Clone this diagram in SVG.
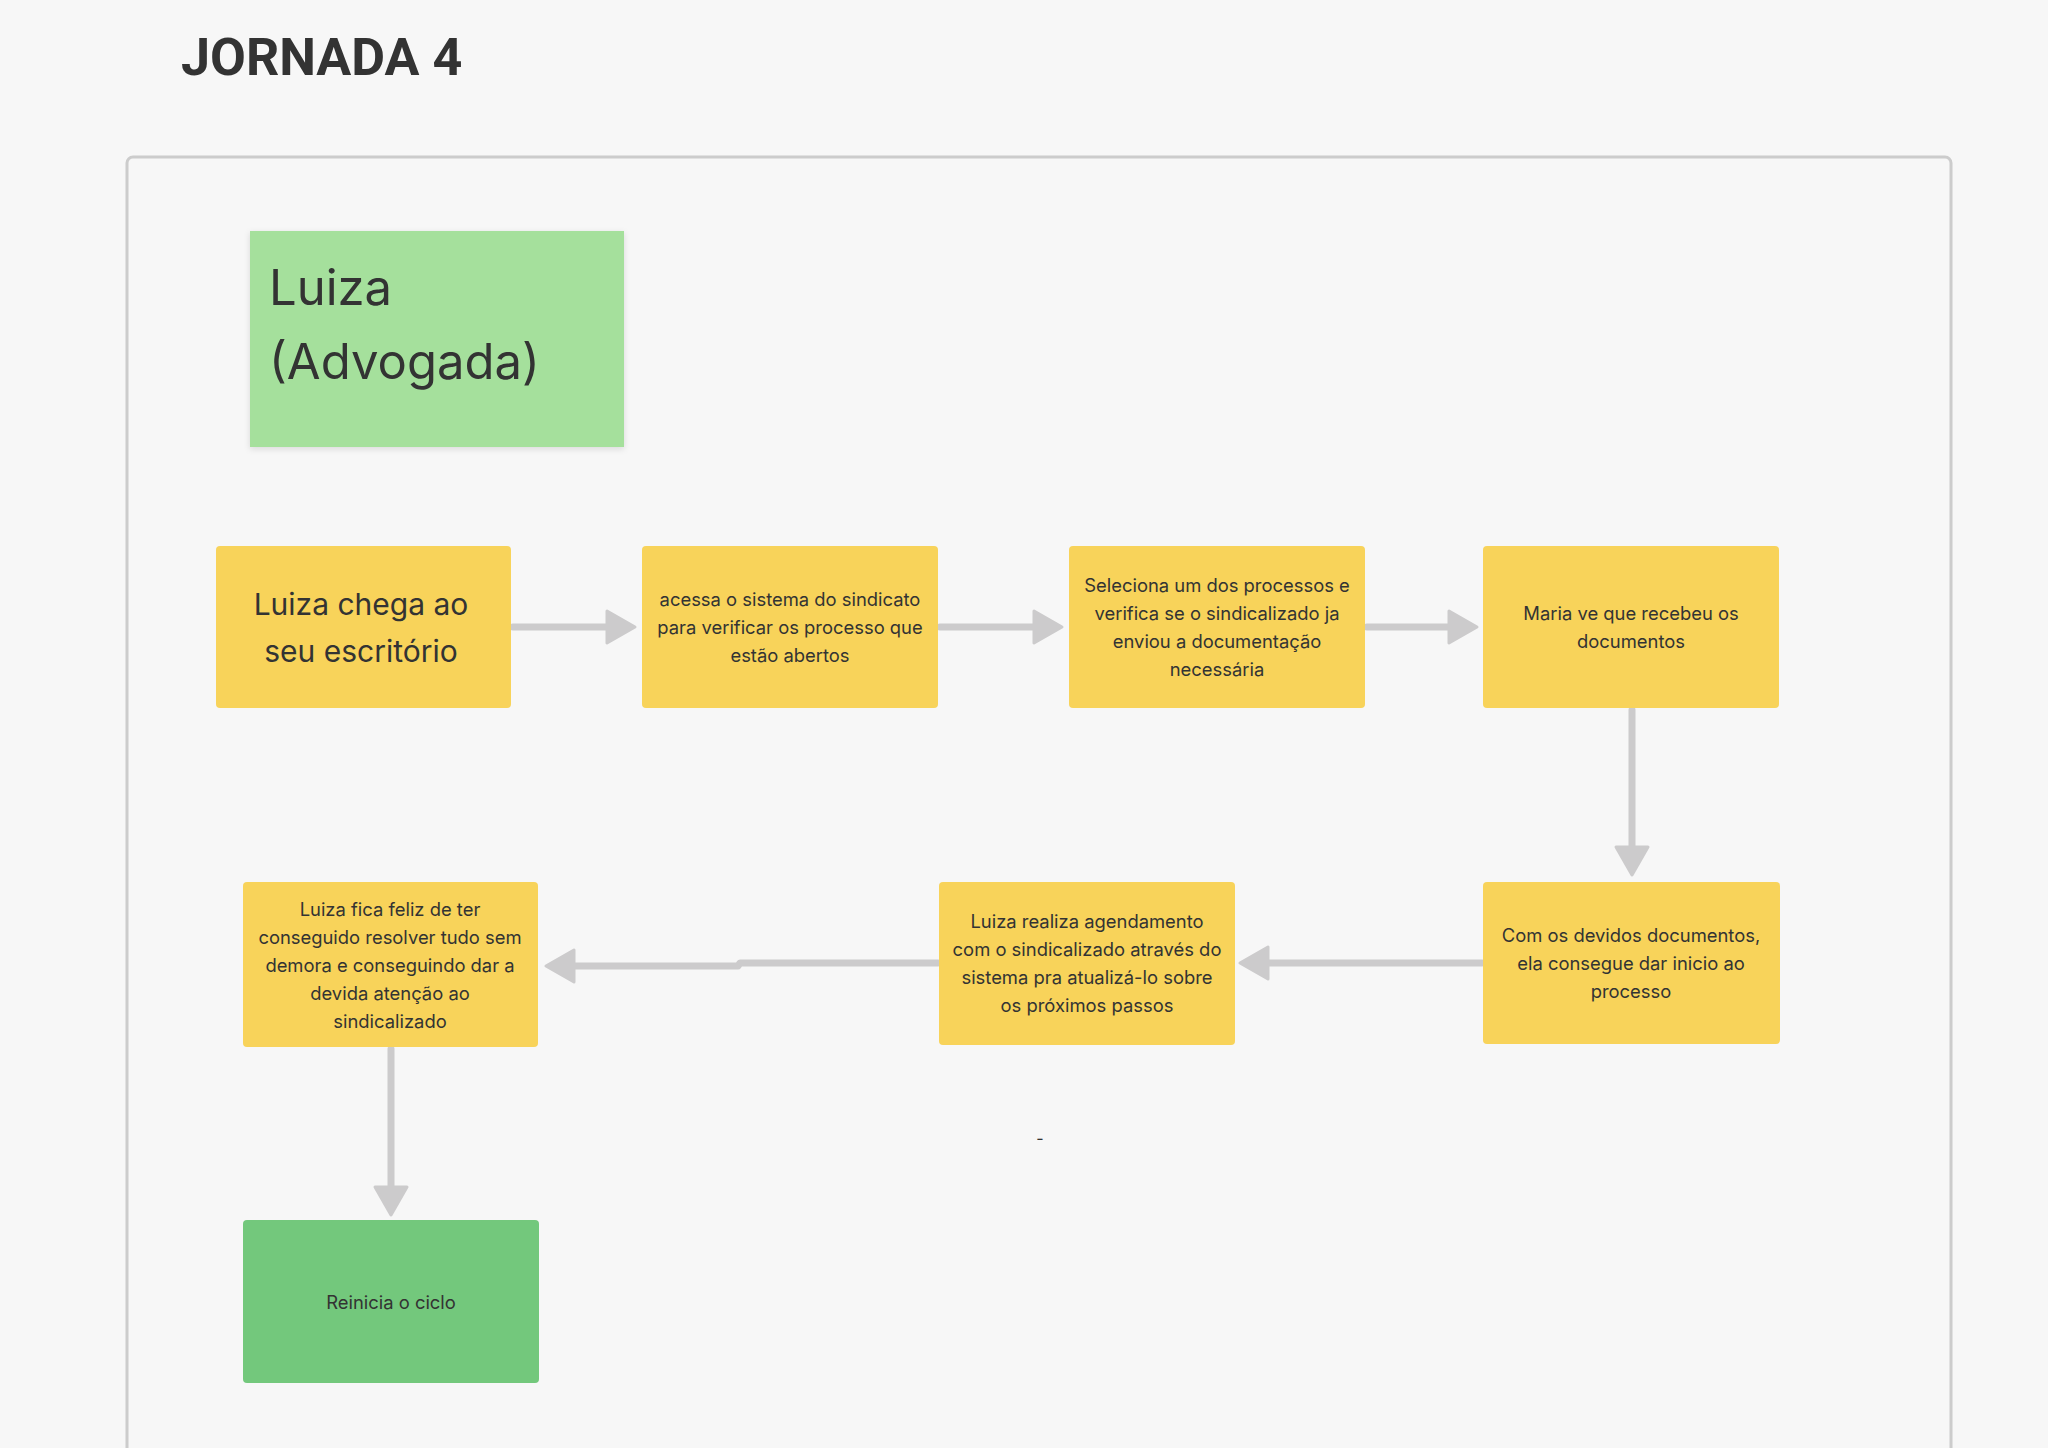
<svg xmlns="http://www.w3.org/2000/svg" width="2048" height="1448" viewBox="0 0 2048 1448">
<style>
.bg{fill:#f7f7f7}
.frame{fill:none;stroke:#cccccc;stroke-width:3}
.sticky{fill:#f8d35a}
.persona{fill:#a5e09c}
.end{fill:#73c87c}
.t{font-family:Inter,"Liberation Sans",sans-serif;fill:#333333;text-anchor:middle}
.s{font-size:18.4px}
.big{font-size:30px}
.title{font-family:Roboto,"Liberation Sans",sans-serif;font-weight:700;font-size:52px;fill:#333333}
.conn{fill:none;stroke:#cccbcc;stroke-width:7;stroke-linecap:round;stroke-linejoin:round}
</style>
<defs>
<marker id="ah" markerUnits="userSpaceOnUse" markerWidth="34" markerHeight="40" refX="2" refY="20" orient="auto" viewBox="0 0 34 40">
<path d="M2,4 L30,20 L2,36 Z" fill="#cccbcc" stroke="#cccbcc" stroke-width="3" stroke-linejoin="round"/>
</marker>
<filter id="sh" x="-5%" y="-5%" width="110%" height="115%">
<feDropShadow dx="0" dy="2" stdDeviation="3" flood-color="#000" flood-opacity="0.12"/>
</filter>
</defs>
<rect class="bg" x="0" y="0" width="2048" height="1448"/>
<text class="title" x="181" y="75">JORNADA 4</text>
<rect class="frame" x="127" y="157" width="1824" height="1320" rx="6"/>

<g id="persona">
<rect class="persona" x="250" y="231" width="374" height="216" filter="url(#sh)"/>
<text x="269" y="305" style="font-family:Inter,'Liberation Sans',sans-serif;font-size:49px;fill:#333333">Luiza</text>
<text x="269" y="379" style="font-family:Inter,'Liberation Sans',sans-serif;font-size:49px;fill:#333333">(Advogada)</text>
</g>

<g id="connectors">
<path class="conn" d="M513 627 L607 627" marker-end="url(#ah)"/>
<path class="conn" d="M940 627 L1034 627" marker-end="url(#ah)"/>
<path class="conn" d="M1367 627 L1449 627" marker-end="url(#ah)"/>
<path class="conn" d="M1632 710 L1632 847" marker-end="url(#ah)"/>
<path class="conn" d="M1482 963 L1268 963" marker-end="url(#ah)"/>
<path class="conn" d="M938 963 L740 963 L738 966 L574 966" marker-end="url(#ah)"/>
<path class="conn" d="M391 1049 L391 1187" marker-end="url(#ah)"/>
</g>

<g id="n1">
<rect class="sticky" x="216" y="546" width="295" height="162" rx="4"/>
<text class="t big" x="361" y="615">Luiza chega ao</text>
<text class="t big" x="361" y="662">seu escritório</text>
</g>
<g id="n2">
<rect class="sticky" x="642" y="546" width="296" height="162" rx="4"/>
<text class="t s" x="790" y="606">acessa o sistema do sindicato</text>
<text class="t s" x="790" y="634">para verificar os processo que</text>
<text class="t s" x="790" y="662">estão abertos</text>
</g>
<g id="n3">
<rect class="sticky" x="1069" y="546" width="296" height="162" rx="4"/>
<text class="t s" x="1217" y="592">Seleciona um dos processos e</text>
<text class="t s" x="1217" y="620">verifica se o sindicalizado ja</text>
<text class="t s" x="1217" y="648">enviou a documentação</text>
<text class="t s" x="1217" y="676">necessária</text>
</g>
<g id="n4">
<rect class="sticky" x="1483" y="546" width="296" height="162" rx="4"/>
<text class="t s" x="1631" y="620">Maria ve que recebeu os</text>
<text class="t s" x="1631" y="648">documentos</text>
</g>
<g id="n5">
<rect class="sticky" x="1483" y="882" width="297" height="162" rx="4"/>
<text class="t s" x="1631" y="942">Com os devidos documentos,</text>
<text class="t s" x="1631" y="970">ela consegue dar inicio ao</text>
<text class="t s" x="1631" y="998">processo</text>
</g>
<g id="n6">
<rect class="sticky" x="939" y="882" width="296" height="163" rx="4"/>
<text class="t s" x="1087" y="928">Luiza realiza agendamento</text>
<text class="t s" x="1087" y="956">com o sindicalizado através do</text>
<text class="t s" x="1087" y="984">sistema pra atualizá-lo sobre</text>
<text class="t s" x="1087" y="1012">os próximos passos</text>
</g>
<g id="n7">
<rect class="sticky" x="243" y="882" width="295" height="165" rx="4"/>
<text class="t s" x="390" y="916">Luiza fica feliz de ter</text>
<text class="t s" x="390" y="944">conseguido resolver tudo sem</text>
<text class="t s" x="390" y="972">demora e conseguindo dar a</text>
<text class="t s" x="390" y="1000">devida atenção ao</text>
<text class="t s" x="390" y="1028">sindicalizado</text>
</g>
<g id="n8">
<rect class="end" x="243" y="1220" width="296" height="163" rx="4"/>
<text class="t s" x="391" y="1309">Reinicia o ciclo</text>
</g>
<text class="t" x="1040" y="1144" style="font-size:16px">-</text>
</svg>
